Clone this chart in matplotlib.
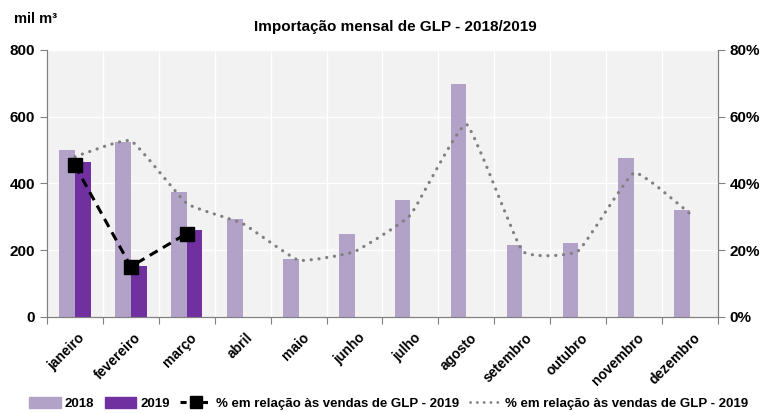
import matplotlib
matplotlib.use("Agg")
import matplotlib.pyplot as plt
import matplotlib.transforms as mtransforms
from matplotlib.path import Path
from matplotlib.patches import PathPatch, Patch
from matplotlib.lines import Line2D
import numpy as np

plt.rcParams['font.family'] = ['Liberation Sans', 'DejaVu Sans']
plt.rcParams['font.weight'] = 'bold'

meses = ['janeiro', 'fevereiro', 'março', 'abril', 'maio', 'junho', 'julho',
         'agosto', 'setembro', 'outubro', 'novembro', 'dezembro']
imp_2018 = [500, 525, 373, 295, 174, 248, 349, 697, 215, 221, 476, 322]
imp_2019 = [463, 153, 262]
pct_2019 = [45.4, 15.1, 25.0]
pct_2018 = [48.0, 52.8, 34.0, 28.0, 17.0, 19.6, 30.6, 57.7, 19.8, 19.8, 43.2, 30.9]

c2018 = '#B3A2C7'
c2019 = '#7030A0'
grey = '#808080'

fig = plt.figure(figsize=(7.7, 4.13), dpi=100)
ax = fig.add_axes([0.061, 0.2325, 0.8715, 0.6465])
ax.set_facecolor('#F2F2F2')

x = np.arange(len(meses))
w = 0.28
ax.bar(x - w / 2, imp_2018, w, color=c2018, zorder=2)
ax.bar(x[:len(imp_2019)] + w / 2, imp_2019, w, color=c2019, zorder=2)

ax.set_xlim(-0.5, 11.5)
ax.set_ylim(0, 800)
ax.set_yticks([0, 200, 400, 600, 800])
ax.set_xticks(np.arange(-0.5, 12, 1))
ax.set_xticklabels([])
ax.set_xticks(x, minor=True)
ax.set_xticklabels(meses, minor=True, rotation=45, ha='right',
                   rotation_mode='anchor', fontsize=10)
ax.tick_params(axis='x', which='minor', length=0, pad=10)
ax.tick_params(axis='x', which='major', length=5, color=grey, direction='out')
ax.tick_params(axis='y', length=5, color=grey, labelsize=11)
off = mtransforms.ScaledTranslation(3 / 100, 0, fig.dpi_scale_trans)
for lab in ax.get_xticklabels(minor=True):
    lab.set_transform(lab.get_transform() + off)

ax.grid(True, axis='y', color='white', linewidth=1, zorder=1)
ax.grid(True, axis='x', which='major', color='white', linewidth=1, zorder=1)
ax.set_axisbelow(True)
for s in ['left', 'bottom', 'right']:
    ax.spines[s].set_color(grey)
ax.spines['top'].set_visible(False)

ax2 = ax.twinx()
ax2.set_ylim(0, 80)
ax2.set_yticks([0, 20, 40, 60, 80])
ax2.set_yticklabels(['0%', '20%', '40%', '60%', '80%'])
ax2.tick_params(axis='y', length=5, color=grey, labelsize=11)
for s in ['left', 'bottom', 'right']:
    ax2.spines[s].set_color(grey)
ax2.spines['top'].set_visible(False)

# dotted line, lightly smoothed as in the spreadsheet chart
px = x.astype(float)
py = np.array(pct_2018)
verts = [(px[0], py[0])]
codes = [Path.MOVETO]
n = len(px)
k = 16
for i in range(n - 1):
    p0 = np.array([px[max(i - 1, 0)], py[max(i - 1, 0)]])
    p1 = np.array([px[i], py[i]])
    p2 = np.array([px[i + 1], py[i + 1]])
    p3 = np.array([px[min(i + 2, n - 1)], py[min(i + 2, n - 1)]])
    c1 = p1 + (p2 - p0) / k
    c2 = p2 - (p3 - p1) / k
    verts += [tuple(c1), tuple(c2), tuple(p2)]
    codes += [Path.CURVE4] * 3
ax2.add_patch(PathPatch(Path(verts, codes), fill=False, edgecolor=grey,
                        linewidth=2.3, linestyle=(0, (0.05, 2.4)),
                        capstyle='round', zorder=3))

ax2.plot(x[:len(pct_2019)], pct_2019, color='black', linestyle=(0, (3, 2)),
         linewidth=2.2, marker='s', markersize=10, zorder=4)

fig.text(0.513, 0.935, 'Importação mensal de GLP - 2018/2019', ha='center',
         va='center', fontsize=11)
fig.text(0.018, 0.955, 'mil m³', ha='left', va='center', fontsize=10.5)

handles = [Patch(color=c2018), Patch(color=c2019),
           Line2D([], [], color='black', linestyle=(0, (2, 1.5)), linewidth=2.2,
                  marker='s', markersize=8),
           Line2D([], [], color=grey, linestyle=(0, (0.05, 2.4)), linewidth=2.0,
                  dash_capstyle='round')]
labels = ['2018', '2019', '% em relação às vendas de GLP - 2019',
          '% em relação às vendas de GLP - 2019']
fig.legend(handles, labels, loc='center', bbox_to_anchor=(0.505, 0.022), ncol=4,
           frameon=False, fontsize=9.5, handlelength=2.4, handleheight=0.9,
           handletextpad=0.3, columnspacing=0.8)

fig.savefig('out.png', dpi=100)
